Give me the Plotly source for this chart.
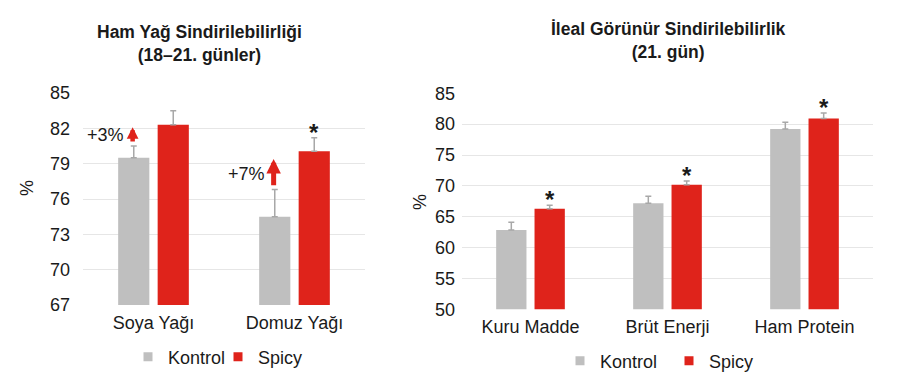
import plotly.graph_objects as go

# ---- data: left panel (Ham Yağ Sindirilebilirliği) ----
left_categories = ["Soya Yağı", "Domuz Yağı"]
left_kontrol = [79.5, 74.5]
left_kontrol_err = [1.0, 2.3]
left_spicy = [82.3, 80.05]
left_spicy_err = [1.2, 1.15]
left_yticks = [67, 70, 73, 76, 79, 82, 85]
left_increase = ["+3%", "+7%"]
left_star = [False, True]

# ---- data: right panel (İleal Görünür Sindirilebilirlik) ----
right_categories = ["Kuru Madde", "Brüt Enerji", "Ham Protein"]
right_kontrol = [62.85, 67.2, 79.2]
right_kontrol_err = [1.25, 1.1, 1.1]
right_spicy = [66.3, 70.2, 80.9]
right_spicy_err = [0.55, 0.6, 0.9]
right_yticks = [50, 55, 60, 65, 70, 75, 80, 85]
right_star = [True, True, True]

series_names = ["Kontrol", "Spicy"]
GRAY = "#bfbfbf"
RED = "#df231b"
ERR = "#a8a8a8"
TXT = "#1a1a1a"
FONT = "Liberation Sans, Arial, sans-serif"

W, H = 900, 385


def px_x(p):
    return p / W


def px_y(p):
    return 1 - p / H


fig = go.Figure()


def add_bars(cats, kon, kon_e, spi, spi_e, xa, ya):
    for name, vals, errs, col in [
        (series_names[0], kon, kon_e, GRAY),
        (series_names[1], spi, spi_e, RED),
    ]:
        fig.add_trace(go.Bar(
            x=cats, y=vals, name=name, marker=dict(color=col, line=dict(width=0)),
            error_y=dict(type="data", array=errs, arrayminus=[0] * len(errs),
                         symmetric=False, color=ERR, thickness=1.5, width=3),
            xaxis=xa, yaxis=ya, showlegend=False, offsetgroup=name,
        ))


add_bars(left_categories, left_kontrol, left_kontrol_err, left_spicy, left_spicy_err, "x", "y")
add_bars(right_categories, right_kontrol, right_kontrol_err, right_spicy, right_spicy_err, "x2", "y2")

# legend entries
for leg in ["legend", "legend2"]:
    for name, col in [(series_names[0], GRAY), (series_names[1], RED)]:
        fig.add_trace(go.Scatter(
            x=[None], y=[None], mode="markers", name=name,
            marker=dict(symbol="square", size=9, color=col),
            legend=leg, xaxis="x" if leg == "legend" else "x2",
            yaxis="y" if leg == "legend" else "y2",
        ))

BARGAP = 0.44
OFF = (1 - BARGAP) / 4  # offset of each bar centre from category centre

annotations = []
# stars
for i, (flag, v, e) in enumerate(zip(left_star, left_spicy, left_spicy_err)):
    if flag:
        annotations.append(dict(x=i + OFF, y=v + e, xref="x", yref="y", text="<b>*</b>",
                                showarrow=False, yanchor="bottom", yshift=-10,
                                font=dict(size=24, color=TXT, family=FONT)))
for i, (flag, v, e) in enumerate(zip(right_star, right_spicy, right_spicy_err)):
    if flag:
        annotations.append(dict(x=i + OFF, y=v + e, xref="x2", yref="y2", text="<b>*</b>",
                                showarrow=False, yanchor="bottom", yshift=-10,
                                font=dict(size=24, color=TXT, family=FONT)))

# increase arrows in left panel
for i, (lab, k, ke) in enumerate(zip(left_increase, left_kontrol, left_kontrol_err)):
    xi = i - OFF - 0.008
    tail = k + ke + 0.25
    tip = tail + (1.35 if i == 0 else 2.35)
    annotations.append(dict(x=xi, y=tip, ax=xi, ay=tail, xref="x", yref="y",
                            axref="x", ayref="y", text="", showarrow=True,
                            arrowhead=2, arrowsize=0.52 if i == 0 else 0.58,
                            arrowwidth=4.5 if i == 0 else 5,
                            arrowcolor=RED, standoff=0, startstandoff=0))
    annotations.append(dict(x=xi - 0.045, y=(tail + tip) / 2 + (0.05 if i == 0 else -0.1),
                            xref="x", yref="y", text=lab, showarrow=False,
                            xanchor="right", yanchor="middle",
                            font=dict(size=18, color=TXT, family=FONT)))

# titles
annotations.append(dict(x=px_x(199), y=px_y(20), xref="paper", yref="paper",
                        text="<b>Ham Yağ Sindirilebilirliği<br>(18–21. günler)</b>",
                        showarrow=False, xanchor="center", yanchor="top",
                        font=dict(size=17.5, color=TXT, family=FONT)))
annotations.append(dict(x=px_x(668.5), y=px_y(17), xref="paper", yref="paper",
                        text="<b>İleal Görünür Sindirilebilirlik<br>(21. gün)</b>",
                        showarrow=False, xanchor="center", yanchor="top",
                        font=dict(size=17.5, color=TXT, family=FONT)))
# y-axis titles
annotations.append(dict(x=px_x(27), y=px_y(188), xref="paper", yref="paper", text="%",
                        showarrow=False, textangle=-90, xanchor="center", yanchor="middle",
                        font=dict(size=18, color=TXT, family=FONT)))
annotations.append(dict(x=px_x(420), y=px_y(202), xref="paper", yref="paper", text="%",
                        showarrow=False, textangle=-90, xanchor="center", yanchor="middle",
                        font=dict(size=18, color=TXT, family=FONT)))

axis_common = dict(showline=False, zeroline=False, ticks="", automargin=False,
                   tickfont=dict(size=18, color=TXT, family=FONT))

fig.update_layout(
    width=W, height=H,
    margin=dict(l=0, r=0, t=0, b=0, autoexpand=False),
    paper_bgcolor="white", plot_bgcolor="white",
    barmode="group", bargap=BARGAP, bargroupgap=0.21,
    font=dict(family=FONT, color=TXT),
    xaxis=dict(domain=[px_x(83), px_x(365)], anchor="y", type="category",
               showgrid=False, ticklabelstandoff=5, **axis_common),
    yaxis=dict(domain=[px_y(305), px_y(93)], anchor="x", range=[67, 85],
               tickvals=left_yticks, showgrid=True, gridcolor="#e6e6e6", gridwidth=1,
               ticklabelstandoff=12, **axis_common),
    xaxis2=dict(domain=[px_x(462), px_x(873)], anchor="y2", type="category",
                showgrid=False, ticklabelstandoff=5, **axis_common),
    yaxis2=dict(domain=[px_y(309.3), px_y(93.3)], anchor="x2", range=[50, 85],
                tickvals=right_yticks, showgrid=True, gridcolor="#e6e6e6", gridwidth=1,
                ticklabelstandoff=6, **axis_common),
    legend=dict(orientation="h", x=px_x(128), y=px_y(357), xanchor="left",
                yanchor="middle", entrywidth=45, font=dict(size=18, color=TXT, family=FONT),
                bgcolor="rgba(0,0,0,0)", borderwidth=0),
    legend2=dict(orientation="h", x=px_x(560), y=px_y(361), xanchor="left",
                 yanchor="middle", entrywidth=64, font=dict(size=18, color=TXT, family=FONT),
                 bgcolor="rgba(0,0,0,0)", borderwidth=0),
    annotations=annotations,
    showlegend=True,
)

fig.write_html(
    "out.html",
    config={"displayModeBar": False},
    post_script="document.body.style.margin='0';document.body.style.overflow='hidden';",
)
